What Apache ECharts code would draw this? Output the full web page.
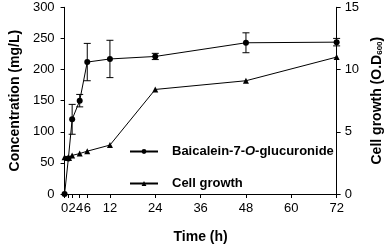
<!DOCTYPE html>
<html><head><meta charset="utf-8">
<script src="https://cdn.jsdelivr.net/npm/echarts@6/dist/echarts.min.js"></script>
<style>html,body{margin:0;padding:0;background:#fff}#c{width:392px;height:249px}</style>
</head><body><div id="c"></div>
<script>
const times = [0, 1, 2, 4, 6, 12, 24, 48, 72];
const concentration = [0, 57, 120, 150, 212, 217, 221, 243, 244];
const concentrationErr = [0, 3, 24, 10, 30, 30, 5, 16, 6];
const cellGrowth = [2.95, 2.95, 3.1, 3.25, 3.44, 3.93, 8.4, 9.1, 11.0];
const xTickLabels = [0, 2, 4, 6, 12, 24, 36, 48, 60, 72];
const xTicks = [0, 1, 2, 4, 6, 12, 24, 36, 48, 60, 72];
const seriesNames = ['Baicalein-7-O-glucuronide', 'Cell growth'];

const font = 'Liberation Sans, Arial, sans-serif';
const chart = echarts.init(document.getElementById('c'), null, {renderer: 'canvas'});

const concData = times.map((t, i) => [t, concentration[i]]);
const cellData = times.map((t, i) => [t, cellGrowth[i]]);
const errData = times.map((t, i) => [t, concentration[i] - concentrationErr[i], concentration[i] + concentrationErr[i]]);

const axisCommon = {
  axisLine: {show: true, lineStyle: {color: '#000', width: 1}},
  axisTick: {show: true, length: 4, lineStyle: {color: '#000'}},
  splitLine: {show: false},
  axisLabel: {color: '#000', fontSize: 13, fontFamily: font}
};

chart.setOption({
  animation: false,
  backgroundColor: '#fff',
  grid: {left: 54, right: 45.5, top: 7.3, bottom: 49.7, containLabel: false},
  legend: {
    orient: 'vertical', left: 124, top: 140,
    itemWidth: 28, itemHeight: 6, itemGap: 19,
    data: seriesNames,
    textStyle: {
      color: '#000', fontSize: 13, fontWeight: 'bold', fontFamily: font, padding: [0, 0, 0, 9],
      rich: {
        n: {fontSize: 13, fontWeight: 'bold', fontFamily: font, color: '#000'},
        i: {fontSize: 13, fontWeight: 'bold', fontStyle: 'italic', fontFamily: font, color: '#000'}
      }
    },
    formatter: function (name) {
      if (name.indexOf('-O-') >= 0) {
        const p = name.split('-O-');
        return '{n|' + p[0] + '-}{i|O}{n|-' + p[1] + '}';
      }
      return '{n|' + name + '}';
    }
  },
  xAxis: Object.assign({}, axisCommon, {
    type: 'value', min: 0, max: 72, interval: 1,
    name: 'Time (h)', nameLocation: 'middle', nameGap: 36,
    nameTextStyle: {color: '#000', fontSize: 14, fontWeight: 'bold', fontFamily: font},
    axisTick: {show: true, length: 4, lineStyle: {color: '#000'}, customValues: xTicks},
    axisLabel: {color: '#000', fontSize: 13, fontFamily: font, margin: 8, customValues: xTickLabels}
  }),
  yAxis: [
    Object.assign({}, axisCommon, {
      type: 'value', min: 0, max: 300, interval: 50, position: 'left',
      name: 'Concentration (mg/L)', nameLocation: 'middle', nameGap: 34,
      nameTextStyle: {color: '#000', fontSize: 14, fontWeight: 'bold', fontFamily: font},
      axisLabel: {color: '#000', fontSize: 13, fontFamily: font, margin: 10}
    }),
    Object.assign({}, axisCommon, {
      type: 'value', min: 0, max: 15, interval: 5, position: 'right',
      name: '{n|Cell growth (O.D}{s|600}{n|)}', nameLocation: 'middle', nameGap: 27, nameRotate: 90,
      nameTextStyle: {
        color: '#000', fontSize: 14, fontWeight: 'bold', fontFamily: font,
        rich: {
          n: {fontSize: 14, fontWeight: 'bold', fontFamily: font, color: '#000'},
          s: {fontSize: 8, fontWeight: 'bold', fontFamily: font, color: '#000', verticalAlign: 'bottom', padding: [6, 0, 0, 0]}
        }
      },
      axisLabel: {color: '#000', fontSize: 13, fontFamily: font, margin: 8}
    })
  ],
  series: [
    {
      name: seriesNames[0], type: 'line', yAxisIndex: 0, data: concData,
      symbol: 'circle', symbolSize: 6,
      lineStyle: {color: '#000', width: 1}, itemStyle: {color: '#000'}, z: 3
    },
    {
      name: seriesNames[1], type: 'line', yAxisIndex: 1, data: cellData,
      symbol: 'triangle', symbolSize: 6,
      lineStyle: {color: '#000', width: 1}, itemStyle: {color: '#000'}, z: 3
    },
    {
      type: 'custom', yAxisIndex: 0, data: errData, z: 2, silent: true,
      renderItem: function (params, api) {
        const x = api.value(0);
        const lo = api.coord([x, api.value(1)]);
        const hi = api.coord([x, api.value(2)]);
        if (Math.abs(hi[1] - lo[1]) < 1) return null;
        const w = 3.5;
        const s = {stroke: '#000', lineWidth: 1};
        return {
          type: 'group',
          children: [
            {type: 'line', shape: {x1: lo[0], y1: lo[1], x2: hi[0], y2: hi[1]}, style: s},
            {type: 'line', shape: {x1: lo[0] - w, y1: lo[1], x2: lo[0] + w, y2: lo[1]}, style: s},
            {type: 'line', shape: {x1: hi[0] - w, y1: hi[1], x2: hi[0] + w, y2: hi[1]}, style: s}
          ]
        };
      }
    }
  ]
});
</script>
</body></html>
